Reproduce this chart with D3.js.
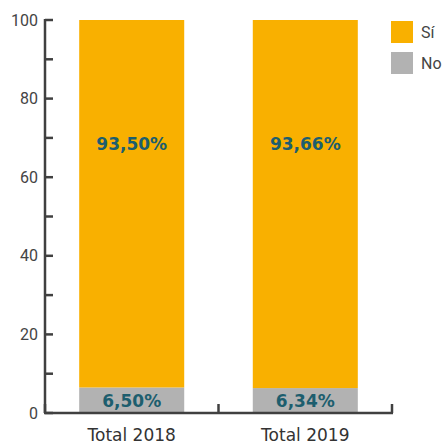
<!DOCTYPE html>
<html>
<head>
<meta charset="utf-8">
<script src="https://cdnjs.cloudflare.com/ajax/libs/d3/7.8.5/d3.min.js"></script>
<style>
  body { margin: 0; background: #fff; }
</style>
</head>
<body>
<script>
const width = 445, height = 444;

const categories = ["Total 2018", "Total 2019"];
const siValues = [93.50, 93.66];
const noValues = [6.50, 6.34];
const siLabels = ["93,50%", "93,66%"];
const noLabels = ["6,50%", "6,34%"];
const yTicks = [0, 20, 40, 60, 80, 100];
const yMinorTicks = [10, 30, 50, 70, 90];

const colSi = "#f9b000", colNo = "#b2b2b2", colTxt = "#1d5e6e", colAxis = "#404040";

const svg = d3.select("body").append("svg")
    .attr("width", width)
    .attr("height", height);

const x = d3.scaleBand()
    .domain(categories)
    .range([45, 392])
    .paddingInner(0.395)
    .paddingOuter(0.197);

const band = d3.scaleBand().domain(categories).range([45, 392]);

const y = d3.scaleLinear().domain([0, 100]).range([413, 20]);

// bars
const g = svg.append("g");
categories.forEach((c, i) => {
  g.append("rect")
    .attr("x", x(c)).attr("width", x.bandwidth())
    .attr("y", y(noValues[i])).attr("height", y(0) - y(noValues[i]))
    .attr("fill", colNo);
  g.append("rect")
    .attr("x", x(c)).attr("width", x.bandwidth())
    .attr("y", y(noValues[i] + siValues[i])).attr("height", y(noValues[i]) - y(noValues[i] + siValues[i]))
    .attr("fill", colSi);

  g.append("text")
    .attr("x", x(c) + x.bandwidth() / 2)
    .attr("y", y(68.5))
    .attr("dy", "0.35em")
    .attr("text-anchor", "middle")
    .attr("font-family", "DejaVu Sans")
    .attr("font-weight", "bold")
    .attr("font-size", 17)
    .attr("fill", colTxt)
    .text(siLabels[i]);

  g.append("text")
    .attr("x", x(c) + x.bandwidth() / 2)
    .attr("y", y(noValues[i] / 2) + 1)
    .attr("dy", "0.35em")
    .attr("text-anchor", "middle")
    .attr("font-family", "DejaVu Sans")
    .attr("font-weight", "bold")
    .attr("font-size", 17)
    .attr("fill", colTxt)
    .text(noLabels[i]);
});

// y axis
const yAxis = svg.append("g");
yAxis.append("line")
  .attr("x1", 45).attr("x2", 45).attr("y1", y(100) - 1).attr("y2", y(0))
  .attr("stroke", colAxis).attr("stroke-width", 2.5);
yTicks.concat(yMinorTicks).forEach(t => {
  yAxis.append("line")
    .attr("x1", 45).attr("x2", 53).attr("y1", y(t)).attr("y2", y(t))
    .attr("stroke", colAxis).attr("stroke-width", 2.5);
});
yTicks.forEach(t => {
  yAxis.append("text")
    .attr("x", 38).attr("y", y(t)).attr("dy", "0.35em")
    .attr("text-anchor", "end")
    .attr("font-family", "Roboto")
    .attr("font-size", 16)
    .attr("fill", "#444")
    .text(t);
});

// x axis
const xAxis = svg.append("g");
xAxis.append("line")
  .attr("x1", 44).attr("x2", 393).attr("y1", y(0)).attr("y2", y(0))
  .attr("stroke", colAxis).attr("stroke-width", 2.5);
[band(categories[0]), band(categories[1]), band(categories[1]) + band.bandwidth()].forEach(px => {
  xAxis.append("line")
    .attr("x1", px).attr("x2", px).attr("y1", y(0)).attr("y2", y(0) - 9)
    .attr("stroke", colAxis).attr("stroke-width", 2.5);
});
categories.forEach(c => {
  xAxis.append("text")
    .attr("x", x(c) + x.bandwidth() / 2)
    .attr("y", 435).attr("dy", "0.35em")
    .attr("text-anchor", "middle")
    .attr("font-family", "DejaVu Sans")
    .attr("font-size", 17)
    .attr("fill", "#333")
    .text(c);
});

// legend
const legend = svg.append("g");
[["Sí", colSi], ["No", colNo]].forEach(([name, col], i) => {
  legend.append("rect")
    .attr("x", 391).attr("y", 21 + i * 31).attr("width", 22).attr("height", 22)
    .attr("fill", col);
  legend.append("text")
    .attr("x", 421).attr("y", 32 + i * 31).attr("dy", "0.35em")
    .attr("font-family", "Roboto")
    .attr("font-size", 16)
    .attr("fill", "#444")
    .text(name);
});
</script>
</body>
</html>
